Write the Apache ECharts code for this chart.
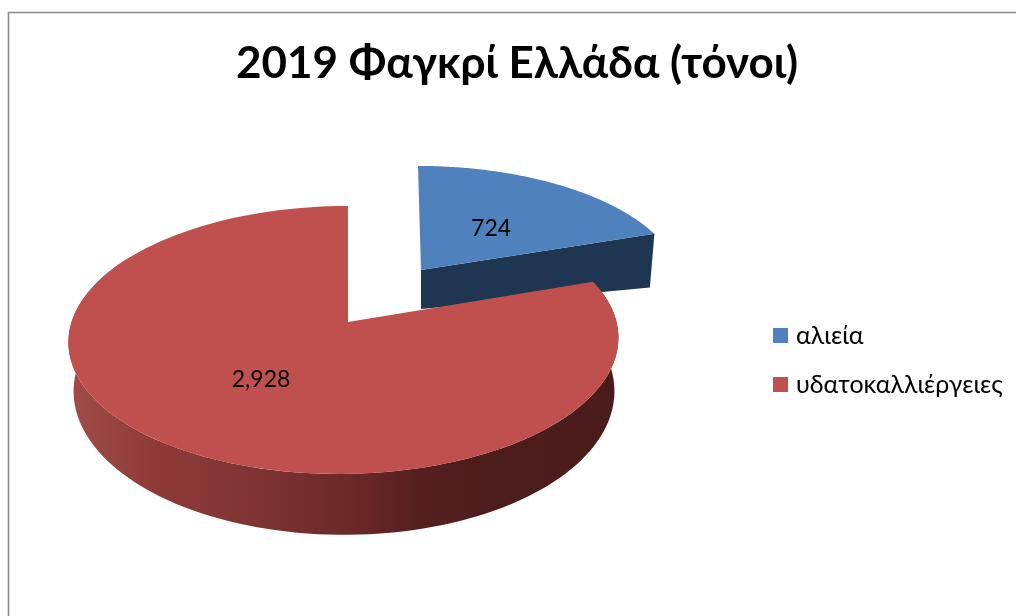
<!DOCTYPE html>
<html>
<head>
<meta charset="utf-8">
<style>html,body{margin:0;padding:0;background:#fff}#c{width:1016px;height:616px}</style>
<script src="https://cdn.jsdelivr.net/npm/echarts@6/dist/echarts.min.js"></script>
</head>
<body>
<div id="c"></div>
<script>
const titleText = '2019 Φαγκρί Ελλάδα (τόνοι)';
const categories = ['αλιεία', 'υδατοκαλλιέργειες'];
const values = [724, 2928];
const faceColors = ['#4f81bd', '#bf504d'];
const fontFamily = 'Lato,"Open Sans","Noto Sans",sans-serif';

// Perspective of each exploded slice: top face and base ring.
const K = 0.134;
const views = [
  { top: {ax:421, ay:270, A:258, B:118, sh:3.4, ox:0},
    base:{ax:421, ay:309, A:253, B:70,  sh:3.4, ox:0}, labelDx:0, labelDy:4 },
  { top: {ax:344, ay:322, A:272.5, B:131.6, sh:-4.5, ox:4},
    base:{ax:344, ay:372, A:268, B:141, sh:0, ox:0}, labelDx:3, labelDy:1 }
];

const total = values.reduce((a, b) => a + b, 0);
const starts = values.map((_, i) => values.slice(0, i).reduce((a, b) => a + b, 0) / total * Math.PI * 2);

function project(g, t, r) {
  const u = Math.sin(t) * r, v = -Math.cos(t) * r, d = 1 - K * v;
  return [g.ax + (g.A * u + g.sh * v) / d, g.ay + g.B * v / d];
}
function arc(g, a, b) {
  const pts = [], n = 120;
  for (let i = 0; i <= n; i++) pts.push(project(g, a + (b - a) * i / n, 1));
  return pts;
}
const wallGradient = {
  type:'linear', x:70, y:0, x2:620, y2:0, global:true,
  colorStops:[
    {offset:0, color:'#a04c48'}, {offset:0.145, color:'#8f3b38'},
    {offset:0.33, color:'#7f3433'}, {offset:0.51, color:'#6b2928'},
    {offset:0.64, color:'#551f1f'}, {offset:0.745, color:'#4c1d1c'}, {offset:1, color:'#4a1c1b'}
  ]
};

function makeRender(i) {
  return function (params, api) {
    const value = api.value(0);
    const a = starts[i], b = a + value / total * Math.PI * 2;
    const v = views[i], children = [];
    const apexTop = [v.top.ax + v.top.ox, v.top.ay];
    const apexBase = [v.base.ax + v.base.ox, v.base.ay];
    if (b - a > Math.PI) {
      // large slice: curved outer wall faces the viewer
      const wEnd = a + (b - a) * 0.8;
      const pts = arc(v.top, a, wEnd).concat(arc(v.base, a, wEnd).reverse());
      children.push({type:'polygon', shape:{points:pts}, style:{fill:wallGradient}});
    } else {
      // small slice: its straight cut face is visible
      const pts = [apexTop, project(v.top, b, 1), project(v.base, b, 1), apexBase];
      children.push({type:'polygon', shape:{points:pts}, style:{fill:'#1f3653'}});
    }
    children.push({type:'polygon', shape:{points:[apexTop].concat(arc(v.top, a, b))},
      style:{fill:faceColors[i]}});
    const c = project(v.top, (a + b) / 2, 0.5);
    children.push({type:'text', x:c[0] + v.labelDx, y:c[1] + v.labelDy,
      style:{text:value.toLocaleString('en-US'), fill:'#000', font:'23px ' + fontFamily,
             align:'center', verticalAlign:'middle'}});
    return {type:'group', children};
  };
}

const chart = echarts.init(document.getElementById('c'), null, {renderer:'canvas'});
chart.setOption({
  animation:false,
  backgroundColor:'#fff',
  title:{text:titleText, left:231, top:37,
    textStyle:{fontFamily, fontWeight:'bold', fontSize:44, color:'#000'}},
  legend:{
    orient:'vertical', left:768, top:318, itemWidth:15, itemHeight:15, itemGap:24, itemStyle:{borderWidth:0},
    icon:'rect', data:categories,
    textStyle:{fontFamily, fontSize:25, color:'#000', padding:[0,0,0,3]}
  },
  graphic:[
    {type:'polyline', shape:{points:[[8.5,616],[8.5,12.5],[1016,12.5]]}, style:{stroke:'#8c8c8c', lineWidth:1.6, fill:null}, silent:true}
  ],
  series:categories.map((name, i) => ({
    type:'custom', name, coordinateSystem:'none',
    data:[[values[i]]], renderItem:makeRender(i),
    itemStyle:{color:faceColors[i]}, silent:true
  }))
});
</script>
</body>
</html>
